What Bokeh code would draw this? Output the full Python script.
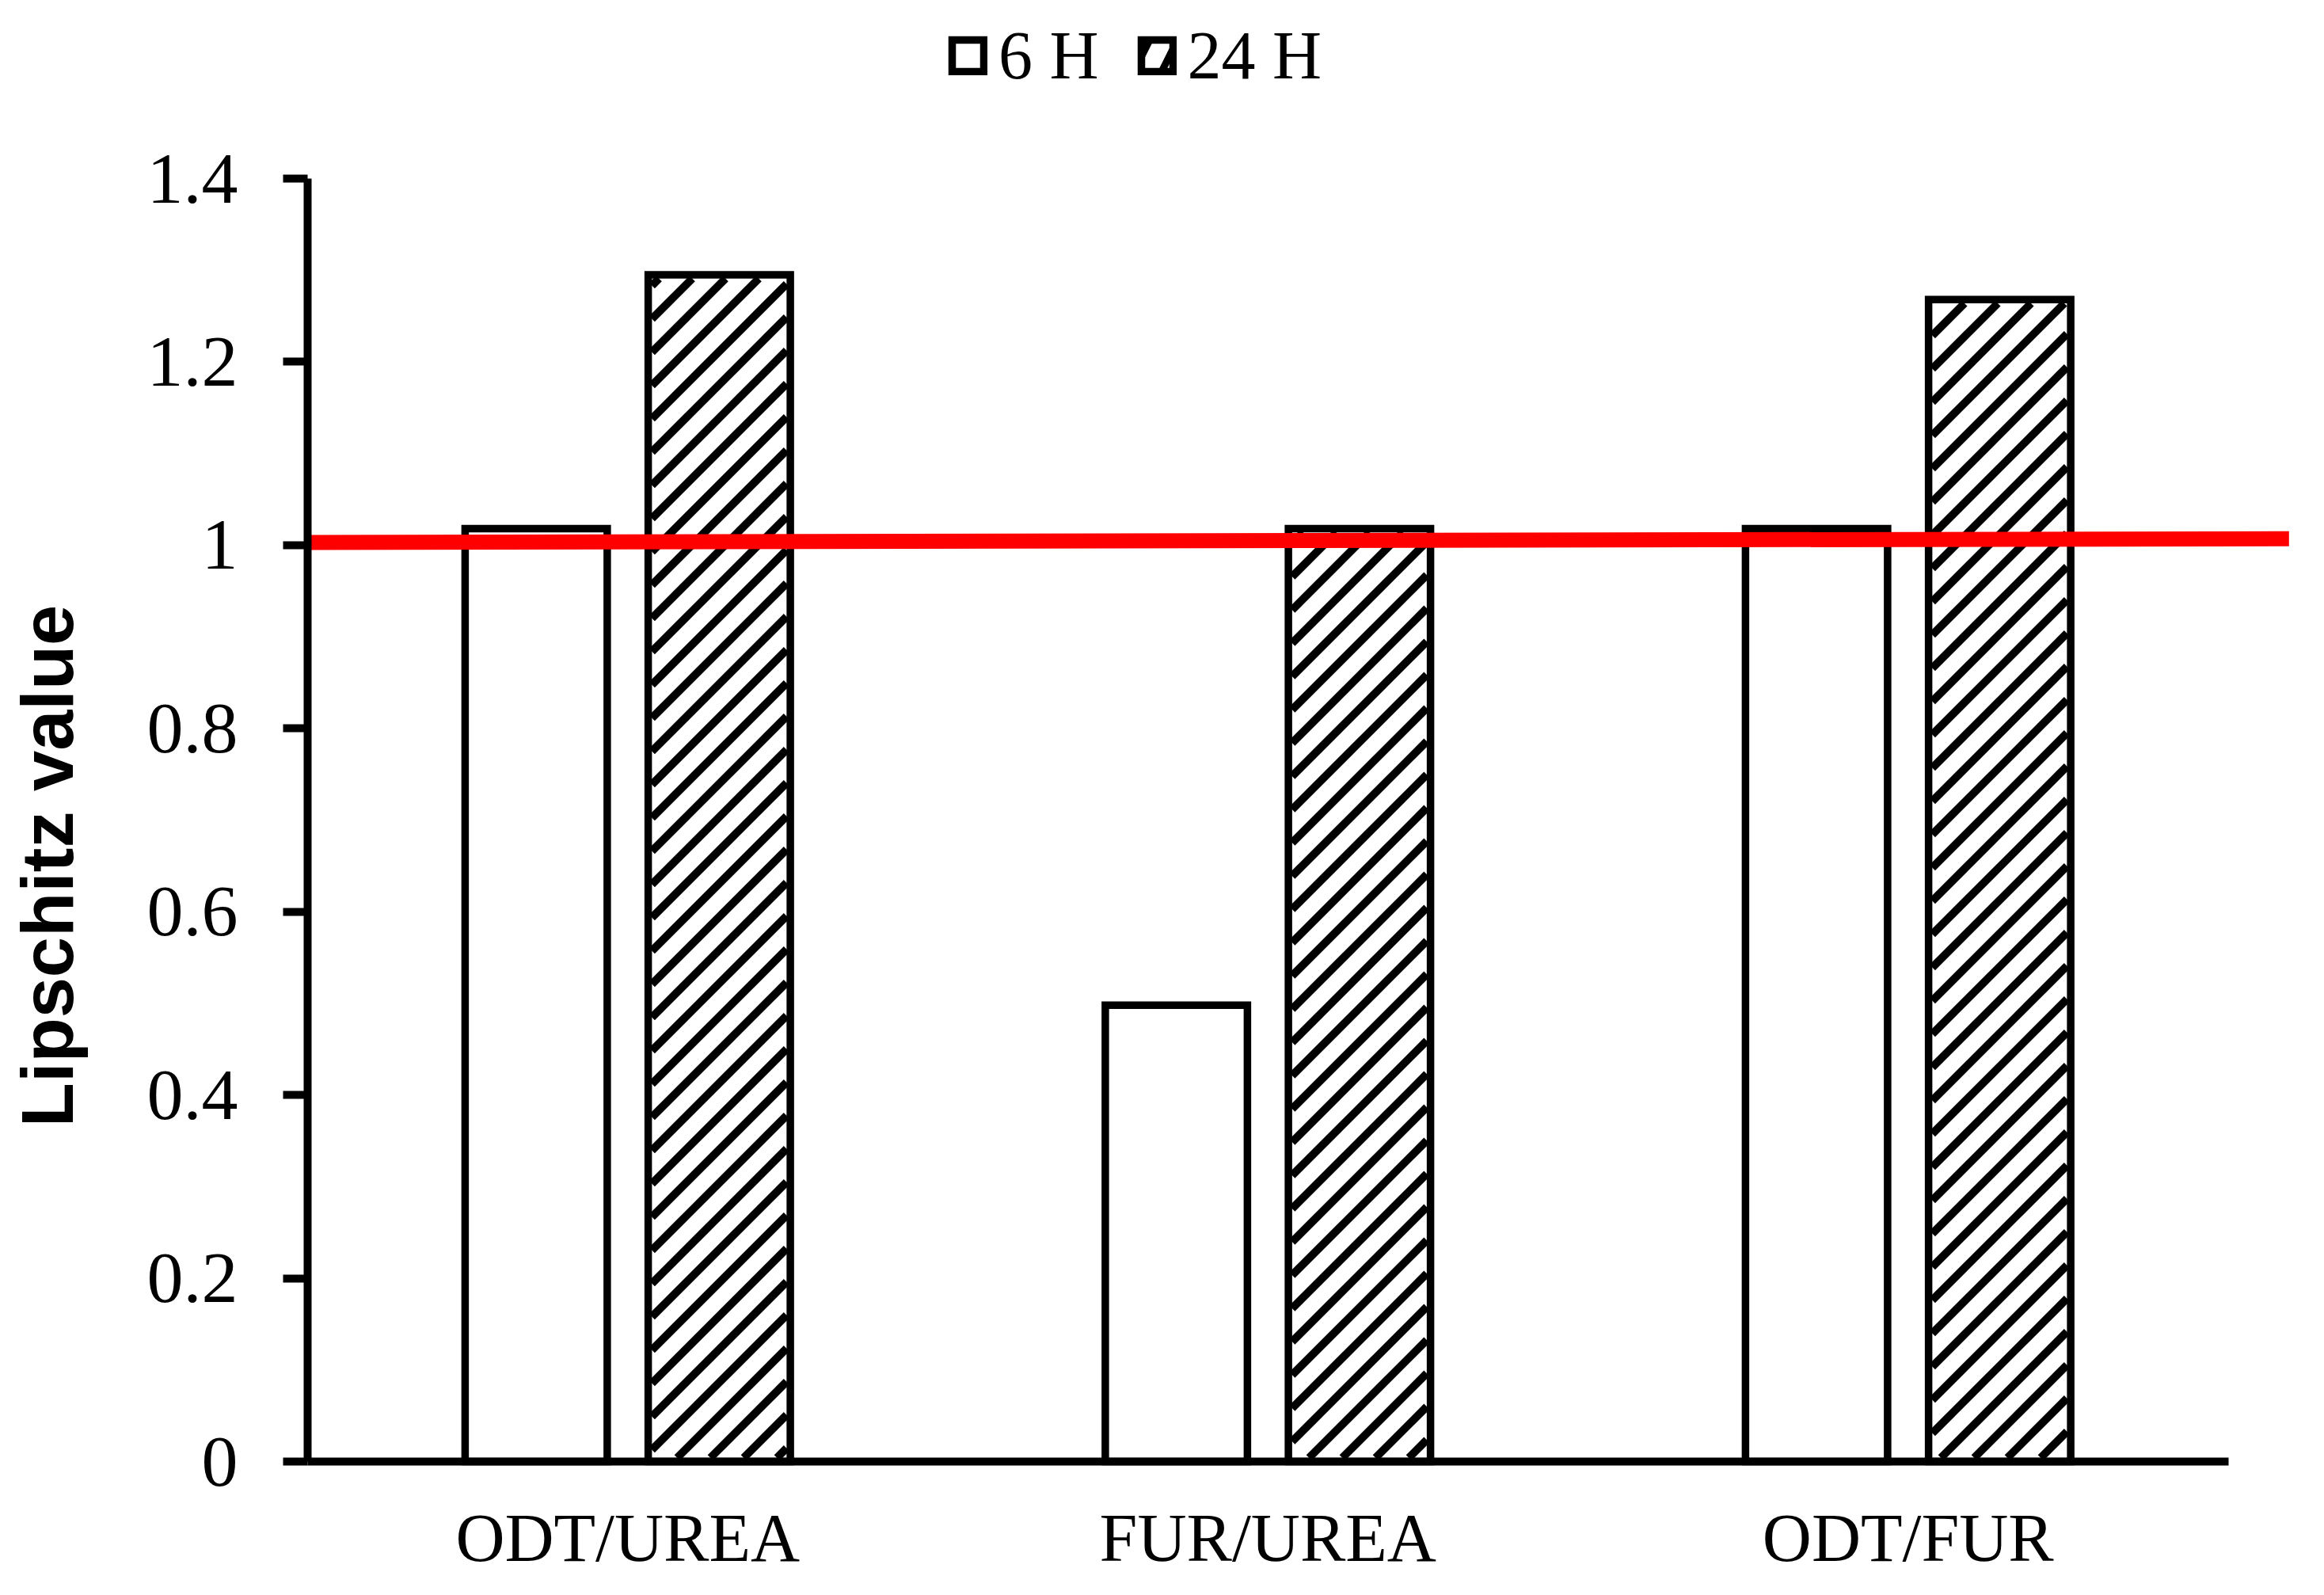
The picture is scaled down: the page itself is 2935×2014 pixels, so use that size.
import math
from bokeh.plotting import figure
from bokeh.models import (ColumnDataSource, FixedTicker, Range1d, Legend,
                          LegendItem, Label)
from bokeh.embed import file_html
from bokeh.resources import INLINE

# ---------------- data ----------------
categories = ["ODT/UREA", "FUR/UREA", "ODT/FUR"]
series_names = ["6 H", "24 H"]
values_6h = [1.018, 0.498, 1.018]
values_24h = [1.295, 1.018, 1.268]
y_ticks = [0, 0.2, 0.4, 0.6, 0.8, 1.0, 1.2, 1.4]
y_tick_labels = ["0", "0.2", "0.4", "0.6", "0.8", "1", "1.2", "1.4"]
threshold_values = [1.003, 1.007]   # red reference line (left end, right end)
y_axis_title = "Lipschitz value"

# ---------------- layout / style ----------------
W, H = 2927, 2006
PX_X = 808.5                 # pixels per category
PX_Y = 1620 / 1.4            # pixels per y unit
LEFT_PX = 388                # canvas x of the y axis
AXIS_Y_PX = 1845             # canvas y of the x axis
X_START = -LEFT_PX / PX_X
X_END = (W - LEFT_PX) / PX_X
Y_START = -(H - AXIS_Y_PX) / PX_Y
Y_TOP = AXIS_Y_PX / PX_Y
LINE_END = 3.095
BAR_W = 0.222
OFF = 0.143
OUTLINE = 9.5
HATCH_STEP = 42              # px, vertical period of the 45-degree hatch
HATCH_W = 10
SERIF = "Liberation Serif"

centers = [i + 0.5 for i in range(len(categories))]
x6 = [c - OFF for c in centers]
x24 = [c + OFF for c in centers]
src6 = ColumnDataSource(dict(x=x6, top=values_6h))
src24 = ColumnDataSource(dict(x=x24, top=values_24h))
ref_src = ColumnDataSource(dict(x=[0, LINE_END], y=threshold_values))

# 45-degree "/" hatch lines clipped to the inside of each 24 H bar
hx0, hy0, hx1, hy1 = [], [], [], []
ins = OUTLINE / 2
for xc, top in zip(x24, values_24h):
    xl = (xc - BAR_W / 2) * PX_X + ins
    xr = (xc + BAR_W / 2) * PX_X - ins
    yb = ins
    yt = top * PX_Y - ins
    k0 = math.floor((yb - xr) / HATCH_STEP)
    k1 = math.ceil((yt - xl) / HATCH_STEP)
    for k in range(k0, k1 + 1):
        c = k * HATCH_STEP
        xs = max(xl, yb - c)
        xe = min(xr, yt - c)
        if xe - xs > 0.5:
            hx0.append(xs / PX_X); hy0.append((xs + c) / PX_Y)
            hx1.append(xe / PX_X); hy1.append((xe + c) / PX_Y)
hatch_src = ColumnDataSource(dict(x0=hx0, y0=hy0, x1=hx1, y1=hy1))

p = figure(width=W, height=H, x_range=Range1d(X_START, X_END),
           y_range=Range1d(Y_START, Y_TOP), title=None,
           output_backend="svg", toolbar_location=None,
           min_border_left=0, min_border_right=0,
           min_border_top=0, min_border_bottom=0)
p.outline_line_color = None
p.grid.visible = False
p.background_fill_color = "white"
p.border_fill_color = "white"

r6 = p.vbar(x="x", top="top", bottom=0, width=BAR_W, source=src6,
            fill_color="white", line_color="black", line_width=OUTLINE,
            line_join="miter")
r24 = p.vbar(x="x", top="top", bottom=0, width=BAR_W, source=src24,
             fill_color="white", line_color="black", line_width=OUTLINE,
             line_join="miter")
p.segment(x0="x0", y0="y0", x1="x1", y1="y1", source=hatch_src,
          line_color="black", line_width=HATCH_W, line_cap="butt")

# hidden proxy renderer that only supplies the hatched legend swatch
r24_key = p.vbar(x="x", top="top", bottom=0, width=BAR_W, source=src24,
                 fill_color="white", line_color="black", line_width=OUTLINE,
                 line_join="miter", hatch_pattern="/", hatch_color="black",
                 hatch_scale=70, hatch_weight=9, visible=False)

p.line(x="x", y="y", source=ref_src, line_color="#FF0000", line_width=19,
       line_cap="butt")

# x axis (drawn at y = 0 inside the full-canvas frame)
xa = p.xaxis[0]
xa.fixed_location = 0
xa.ticker = FixedTicker(ticks=centers)
xa.major_label_overrides = {c: n for c, n in zip(centers, categories)}
xa.bounds = (0, len(categories))
xa.axis_line_width = 10
xa.axis_line_color = "black"
xa.major_tick_out = 0
xa.major_tick_in = 0
xa.minor_tick_out = 0
xa.minor_tick_in = 0
xa.major_label_standoff = 48
xa.major_label_text_font = SERIF
xa.major_label_text_font_size = "86px"
xa.major_label_text_color = "black"

# y axis (drawn at x = 0)
ya = p.yaxis[0]
ya.fixed_location = 0
ya.bounds = (0, 1.4)
ya.ticker = FixedTicker(ticks=y_ticks)
ya.major_label_overrides = dict(zip(y_ticks, y_tick_labels))
ya.axis_line_width = 10
ya.axis_line_color = "black"
ya.major_tick_line_width = 10
ya.major_tick_line_color = "black"
ya.major_tick_out = 31
ya.major_tick_in = 0
ya.minor_tick_out = 0
ya.minor_tick_in = 0
ya.major_label_standoff = 57
ya.major_label_text_font = SERIF
ya.major_label_text_font_size = "92px"
ya.major_label_text_color = "black"

ytitle = Label(x=59, y=H - 1093, x_units="screen", y_units="screen",
               text=y_axis_title, angle=math.pi / 2, text_align="center",
               text_baseline="middle", text_font="Liberation Sans",
               text_font_style="bold", text_font_size="92px",
               text_color="black")
p.add_layout(ytitle)

legend = Legend(items=[LegendItem(label=series_names[0], renderers=[r6]),
                       LegendItem(label=series_names[1], renderers=[r24_key])],
                orientation="horizontal", location=(1197, H - 120),
                glyph_width=50, glyph_height=50, label_standoff=14,
                spacing=48, padding=0, margin=0, border_line_color=None,
                background_fill_alpha=0, inactive_fill_alpha=0,
                label_text_font=SERIF,
                label_text_font_size="86px", label_text_color="black")
p.add_layout(legend, "center")

open("out.html", "w").write(file_html(p, INLINE))
